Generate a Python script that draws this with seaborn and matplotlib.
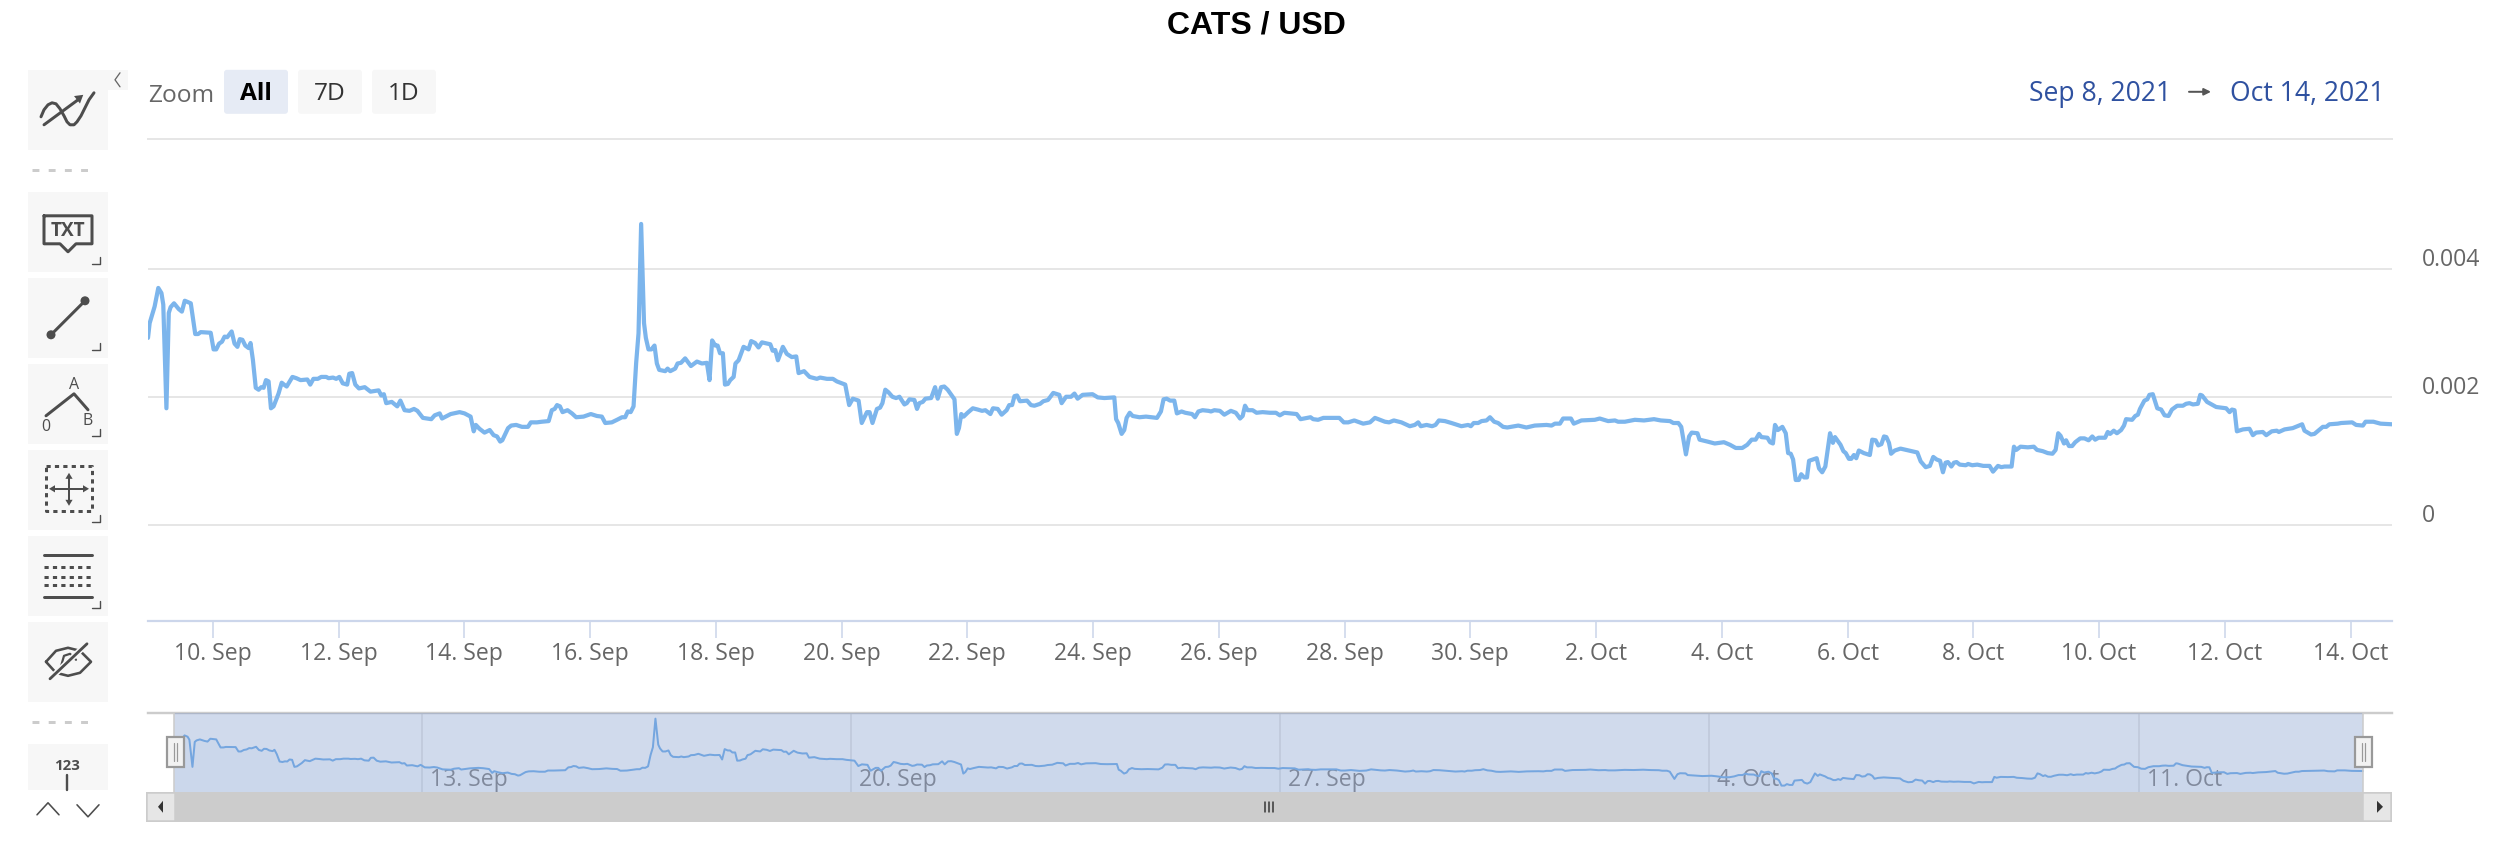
import numpy as np
import pandas as pd
import matplotlib
matplotlib.use("Agg")
import matplotlib.pyplot as plt
import seaborn as sns
from matplotlib.patches import Rectangle, FancyBboxPatch, Polygon, Circle
from matplotlib.transforms import ScaledTranslation

# hours since 9 Sep 2021 00:00
hours = [
    -0.73, -0.1, 1.8, 3.2, 4.4, 5.1, 6.3, 7.2, 7.9, 9.2, 11.0, 12.2, 13.3, 15.6, 17.3, 18.4, 19.4, 23.2, 24.3, 25.3,
    26.4, 27.5, 28.5, 29.5, 31.2, 32.3, 33.4, 34.3, 35.3, 36.4, 37.7, 38.4, 39.3, 40.4, 41.5, 42.5, 43.4, 44.3, 45.3, 46.2,
    47.2, 49.1, 50.3, 51.2, 52.2, 54.4, 55.9, 57.5, 60.1, 61.2, 62.4, 64.1, 65.4, 67.3, 68.2, 69.9, 71.1, 72.3, 73.6, 75.3,
    76.1, 77.2, 78.4, 79.8, 82.0, 84.2, 87.3, 88.3, 89.3, 90.2, 92.3, 94.4, 95.6, 97.2, 99.1, 100.8, 102.1, 104.2, 107.4, 108.7,
    110.6, 111.5, 114.8, 118.2, 120.1, 122.4, 123.6, 124.4, 125.8, 127.7, 129.7, 131.2, 132.5, 133.7, 134.5, 136.7, 137.9, 139.8, 142.0,
    144.3, 145.4, 147.7, 149.6, 152.2, 153.4, 154.5, 155.4, 156.5, 157.5, 159.4, 161.1, 162.7, 165.5, 168.3, 170.6, 172.5, 173.8, 176.3,
    178.3, 180.2, 181.4, 182.4, 183.5, 184.6, 185.6, 186.5, 187.5, 188.6, 189.3, 190.3, 191.4, 192.6, 193.5, 194.4, 196.7, 197.6, 198.6, 200.5,
    201.4, 202.7, 204.3, 206.5, 208.8, 210.7, 212.6, 213.6, 214.6, 215.8, 216.7, 217.6, 218.7, 219.5, 220.6, 221.5, 222.8, 223.5, 224.7, 226.6,
    228.5, 229.5, 231.0, 232.3, 233.6, 236.8, 237.7, 238.7, 239.7, 241.6, 243.1, 245.0, 246.7, 247.6, 249.7, 251.8, 254.6, 255.8, 258.4, 260.7,
    262.2, 265.4, 266.9, 268.3, 270.5, 271.7, 273.7, 274.7, 275.8, 277.5, 278.7, 279.6, 280.7, 281.9, 283.4, 284.8, 286.1, 288.0, 288.9, 289.9,
    291.8, 292.8, 293.7, 295.0, 296.0, 298.2, 299.7, 300.7, 302.0, 303.2, 304.5, 307.1, 308.0, 308.8, 309.7, 310.6, 312.1, 314.1, 316.0, 317.6,
    318.9, 320.8, 321.8, 323.6, 325.1, 327.0, 328.0, 329.1, 330.0, 331.0, 332.1, 334.8, 336.3, 337.6, 339.8, 341.0, 342.8, 344.8, 347.1, 348.0,
    349.7, 351.6, 352.9, 354.1, 356.0, 359.8, 361.8, 364.3, 368.1, 368.8, 369.6, 370.9, 371.9, 372.8, 374.0, 375.1, 377.7, 380.2, 384.4, 385.9,
    386.9, 388.1, 389.4, 391.0, 392.0, 393.8, 395.2, 397.8, 398.9, 400.2, 401.8, 404.1, 405.0, 406.3, 408.4, 410.1, 412.6, 414.5, 416.1, 417.1,
    418.0, 419.0, 420.9, 422.4, 424.7, 427.5, 429.8, 431.3, 433.0, 437.7, 439.2, 443.0, 444.0, 445.9, 447.9, 451.0, 454.0, 455.7, 457.4, 459.7,
    463.1, 465.7, 467.6, 471.4, 473.0, 474.8, 477.7, 480.9, 482.8, 484.1, 485.1, 487.3, 489.4, 490.7, 492.0, 494.3, 496.8, 500.6, 503.2, 504.2,
    505.3, 507.0, 508.3, 510.2, 511.5, 513.1, 514.6, 516.5, 518.1, 522.3, 525.4, 528.6, 533.1, 535.0, 536.3, 538.2, 539.4, 542.4, 543.5, 546.4,
    551.5, 553.4, 556.6, 559.2, 560.4, 563.0, 566.8, 570.3, 574.1, 576.7, 580.2, 581.5, 583.4, 584.5, 586.3, 587.5, 588.5, 590.7, 591.5, 594.5,
    597.3, 600.8, 603.1, 605.3, 607.8, 609.7, 611.4, 612.9, 614.2, 615.1, 617.4, 618.4, 619.5, 620.3, 621.4, 623.1, 624.4, 625.3, 626.3, 627.2,
    628.2, 629.4, 630.3, 631.4, 632.5, 633.3, 636.2, 637.1, 638.3, 639.5, 641.3, 642.4, 643.2, 645.3, 646.4, 647.3, 648.5, 649.4, 650.4, 651.3,
    652.3, 654.2, 656.5, 657.4, 658.7, 659.7, 660.9, 661.9, 662.8, 663.8, 664.6, 666.0, 668.2, 671.4, 674.6, 675.9, 677.8, 679.4, 680.7, 682.0,
    683.3, 684.4, 685.4, 686.3, 687.6, 688.6, 689.6, 690.8, 693.1, 694.0, 695.6, 697.5, 699.8, 702.2, 703.5, 705.4, 706.7, 707.9, 710.6, 711.5,
    712.4, 714.0, 716.8, 719.1, 720.3, 722.5, 724.4, 726.2, 727.4, 728.4, 729.3, 730.6, 731.4, 732.5, 733.7, 734.9, 736.8, 738.4, 740.0, 741.4,
    742.5, 743.8, 746.3, 747.3, 748.2, 749.6, 750.8, 752.4, 753.5, 754.3, 756.6, 757.8, 758.8, 759.6, 761.3, 762.4, 763.2, 764.5, 766.2, 767.7,
    769.0, 770.5, 771.8, 773.8, 776.0, 777.2, 778.5, 779.8, 781.7, 782.6, 783.3, 785.2, 788.7, 792.5, 793.8, 794.7, 795.7, 796.6, 798.9, 801.4,
    802.7, 803.9, 806.5, 807.8, 809.9, 811.8, 812.6, 814.8, 817.9, 821.5, 822.4, 824.9, 826.2, 829.4, 830.7, 831.9, 835.1, 836.4, 840.6, 842.1,
    844.7, 845.7, 848.7, 851.4, 855.8,
]
# CATS price in thousandths of a USD
price_milli = [
    2.92, 3.15, 3.41, 3.70, 3.62, 3.44, 1.82, 3.31, 3.40, 3.46, 3.37, 3.33, 3.50, 3.46, 2.98, 2.98, 3.01, 3.00, 2.74, 2.74,
    2.83, 2.86, 2.94, 2.93, 3.02, 2.83, 2.78, 2.90, 2.89, 2.80, 2.76, 2.84, 2.58, 2.14, 2.11, 2.15, 2.14, 2.26, 2.24, 1.82,
    1.85, 2.05, 2.22, 2.19, 2.16, 2.31, 2.29, 2.26, 2.27, 2.19, 2.28, 2.28, 2.31, 2.31, 2.29, 2.30, 2.28, 2.31, 2.21, 2.19,
    2.36, 2.37, 2.19, 2.13, 2.15, 2.08, 2.10, 2.02, 2.04, 1.90, 1.92, 1.85, 1.94, 1.79, 1.78, 1.81, 1.78, 1.67, 1.65, 1.71,
    1.74, 1.66, 1.73, 1.76, 1.74, 1.69, 1.46, 1.56, 1.50, 1.44, 1.48, 1.40, 1.38, 1.30, 1.32, 1.51, 1.55, 1.56, 1.53,
    1.53, 1.60, 1.60, 1.61, 1.62, 1.79, 1.81, 1.87, 1.85, 1.76, 1.79, 1.74, 1.68, 1.69, 1.73, 1.70, 1.69, 1.59, 1.60,
    1.64, 1.68, 1.68, 1.77, 1.76, 1.85, 2.53, 2.99, 4.70, 3.15, 2.92, 2.74, 2.74, 2.80, 2.52, 2.42, 2.40, 2.44, 2.40, 2.44,
    2.52, 2.53, 2.60, 2.48, 2.55, 2.52, 2.53, 2.26, 2.88, 2.80, 2.80, 2.68, 2.68, 2.19, 2.20, 2.26, 2.31, 2.52, 2.57, 2.78,
    2.74, 2.87, 2.84, 2.77, 2.85, 2.82, 2.72, 2.73, 2.57, 2.78, 2.67, 2.62, 2.63, 2.37, 2.40, 2.31, 2.28, 2.30, 2.28, 2.28,
    2.24, 2.19, 1.87, 1.97, 1.94, 1.59, 1.76, 1.76, 1.59, 1.81, 1.83, 1.90, 2.11, 2.07, 2.00, 1.98, 2.00, 1.88, 1.90, 1.96,
    1.95, 1.81, 1.90, 1.92, 1.97, 1.98, 2.15, 1.97, 2.15, 2.16, 2.11, 1.96, 1.42, 1.51, 1.73, 1.69, 1.75, 1.82, 1.80, 1.78,
    1.79, 1.73, 1.82, 1.81, 1.72, 1.79, 1.87, 1.87, 2.01, 2.02, 1.93, 1.94, 1.87, 1.86, 1.89, 1.93, 1.95, 2.06, 2.03, 1.90,
    2.00, 2.00, 2.05, 1.97, 2.03, 2.04, 1.99, 1.98, 1.99, 1.65, 1.59, 1.42, 1.48, 1.67, 1.75, 1.70, 1.68, 1.69, 1.67, 1.77,
    1.96, 1.97, 1.94, 1.94, 1.74, 1.77, 1.75, 1.73, 1.68, 1.77, 1.79, 1.78, 1.77, 1.79, 1.78, 1.72, 1.78, 1.75, 1.66, 1.70,
    1.86, 1.79, 1.79, 1.75, 1.76, 1.75, 1.75, 1.71, 1.75, 1.73, 1.65, 1.68, 1.65, 1.64, 1.67, 1.67, 1.67, 1.60, 1.60, 1.63,
    1.58, 1.60, 1.67, 1.61, 1.60, 1.63, 1.60, 1.54, 1.56, 1.60, 1.54, 1.56, 1.54, 1.56, 1.63, 1.62, 1.59, 1.54, 1.56, 1.54,
    1.59, 1.59, 1.62, 1.63, 1.68, 1.61, 1.59, 1.53, 1.52, 1.55, 1.52, 1.55, 1.56, 1.55, 1.58, 1.58, 1.66, 1.66, 1.58, 1.63,
    1.64, 1.66, 1.62, 1.63, 1.61, 1.61, 1.64, 1.63, 1.65, 1.63, 1.62, 1.59, 1.59, 1.53, 1.10, 1.38, 1.44, 1.43, 1.33, 1.30,
    1.27, 1.29, 1.25, 1.20, 1.20, 1.25, 1.33, 1.33, 1.42, 1.37, 1.36, 1.29, 1.27, 1.56, 1.48, 1.53, 1.43, 1.12, 1.11, 1.02,
    0.70, 0.70, 0.79, 0.74, 0.74, 1.00, 1.04, 0.88, 0.82, 0.91, 1.43, 1.28, 1.37, 1.25, 1.15, 1.12, 1.03, 1.03, 1.09, 1.04,
    1.16, 1.12, 1.09, 1.33, 1.32, 1.24, 1.26, 1.38, 1.37, 1.28, 1.11, 1.16, 1.19, 1.16, 1.13, 0.99, 0.90, 0.92, 1.06, 1.02,
    1.00, 0.82, 0.97, 0.98, 0.91, 0.97, 0.98, 0.94, 0.93, 0.95, 0.93, 0.94, 0.92, 0.92, 0.83, 0.92, 0.90, 0.91, 0.91, 1.22,
    1.17, 1.22, 1.21, 1.22, 1.17, 1.15, 1.12, 1.11, 1.17, 1.43, 1.39, 1.27, 1.32, 1.23, 1.23, 1.29, 1.35, 1.35, 1.32, 1.38,
    1.33, 1.36, 1.36, 1.45, 1.42, 1.47, 1.43, 1.48, 1.55, 1.65, 1.64, 1.70, 1.72, 1.81, 1.94, 1.96, 2.03, 2.04, 1.82, 1.80,
    1.71, 1.70, 1.80, 1.86, 1.86, 1.89, 1.90, 1.88, 1.89, 2.03, 2.02, 1.92, 1.84, 1.82, 1.76, 1.80, 1.79, 1.46, 1.49, 1.50,
    1.40, 1.44, 1.45, 1.40, 1.46, 1.47, 1.45, 1.49, 1.51, 1.57, 1.47, 1.41, 1.42, 1.53, 1.53, 1.57, 1.58, 1.59, 1.60, 1.56,
    1.55, 1.61, 1.61, 1.58, 1.57,
]

tick_dates = ["2021-09-10", "2021-09-12", "2021-09-14", "2021-09-16", "2021-09-18", "2021-09-20", "2021-09-22",
              "2021-09-24", "2021-09-26", "2021-09-28", "2021-09-30", "2021-10-02", "2021-10-04", "2021-10-06",
              "2021-10-08", "2021-10-10", "2021-10-12", "2021-10-14"]
tick_labels = ["10. Sep", "12. Sep", "14. Sep", "16. Sep", "18. Sep", "20. Sep", "22. Sep", "24. Sep", "26. Sep",
               "28. Sep", "30. Sep", "2. Oct", "4. Oct", "6. Oct", "8. Oct", "10. Oct", "12. Oct", "14. Oct"]
nav_dates = ["2021-09-13", "2021-09-20", "2021-09-27", "2021-10-04", "2021-10-11"]
nav_labels = ["13. Sep", "20. Sep", "27. Sep", "4. Oct", "11. Oct"]
y_ticks = [0, 0.002, 0.004]
y_labels = ["0", "0.002", "0.004"]

W, H = 2500, 854
LINE = "#7cb5ec"
PX = 0.72  # pixels to points at dpi 100
DY = 0.8  # small downward nudge of everything

sns.set_style("white")
plt.rcParams["font.family"] = ["Open Sans", "DejaVu Sans"]

df = pd.DataFrame({
    "time": pd.Timestamp("2021-09-09") + pd.to_timedelta(hours, unit="h"),
    "price": np.array(price_milli) / 1000,
})


def rect(left, top, right, bottom):
    return [left / W, 1 - (bottom + DY) / H, (right - left) / W, (bottom - top) / H]


fig = plt.figure(figsize=(W / 100, H / 100), dpi=100, facecolor="white")

# overlay in pixel units for the toolbar and buttons around the chart
ui = fig.add_axes([0, 0, 1, 1], zorder=0)
ui.set_xlim(0, W)
ui.set_ylim(H - DY, -DY)
ui.axis("off")

# main chart
ax = fig.add_axes(rect(148, 139, 2392, 621), zorder=1)
ax.patch.set_alpha(0)
sns.lineplot(data=df, x="time", y="price", ax=ax, color=LINE, linewidth=4.2 * PX, estimator=None, sort=False,
             solid_joinstyle="round", zorder=3)
ax.set(xlabel=None, ylabel=None)
ax.set_xlim(df["time"].iloc[0], df["time"].iloc[-1])
ax.set_ylim(-0.0015, 0.00603)
ax.set_xticks(pd.to_datetime(tick_dates))
ax.set_xticklabels(tick_labels, fontsize=23 * PX, color="#666666")
ax.tick_params(axis="x", length=17 * PX, width=1.6 * PX, color="#ccd6eb", pad=2, bottom=True)
ax.yaxis.tick_right()
ax.set_yticks(y_ticks)
ax.set_yticklabels(y_labels, fontsize=23 * PX, color="#666666")
ax.tick_params(axis="y", length=0, pad=30 * PX)
shift = ScaledTranslation(0, 12.5 / 100, fig.dpi_scale_trans)
for lab in ax.get_yticklabels():
    lab.set_transform(lab.get_transform() + shift)
ax.grid(axis="y", color="#e6e6e6", linewidth=2 * PX)
ax.set_axisbelow(True)
for side in ["left", "right"]:
    ax.spines[side].set_visible(False)
ax.spines["top"].set_color("#e6e6e6")
ax.spines["top"].set_linewidth(2 * PX)
ax.spines["bottom"].set_color("#ccd6eb")
ax.spines["bottom"].set_linewidth(2.2 * PX)

# navigator
nav = fig.add_axes(rect(148, 713, 2392, 792), zorder=1)
nav.patch.set_alpha(0)
nav.grid(False)
sns.lineplot(data=df, x="time", y="price", ax=nav, color=LINE, linewidth=2.0 * PX, estimator=None, sort=False,
             zorder=3)
nav.fill_between(df["time"], df["price"], -1, color=LINE, alpha=0.05, linewidth=0, zorder=2)
nav.set(xlabel=None, ylabel=None, xticks=[], yticks=[])
start, end = df["time"].iloc[0], df["time"].iloc[-1]
nav.set_xlim(start - pd.Timedelta(hours=10.37), end + pd.Timedelta(hours=11.35))
nav.set_ylim(0.00033, 0.00505)
for side in ["left", "right", "bottom"]:
    nav.spines[side].set_visible(False)
nav.spines["top"].set_color("#cccccc")
nav.spines["top"].set_linewidth(2.4 * PX)
for d, lab in zip(pd.to_datetime(nav_dates), nav_labels):
    nav.axvline(d, color="#e6e6e6", linewidth=1.6 * PX, zorder=1)
    nav.annotate(lab, xy=(d, 0), xycoords=("data", "axes fraction"), xytext=(8 * PX, 1 * PX),
                 textcoords="offset points", fontsize=23 * PX, color="#8c8c8c", va="bottom", ha="left", zorder=2)
nav.axvspan(start, end, color="#6685c2", alpha=0.3, linewidth=0, zorder=4)
for d in [start, end]:
    nav.axvline(d, color="#cccccc", linewidth=1.6 * PX, zorder=5)

# title and range text
fig.text(1256 / W, 1 - 26 / H, "CATS / USD", family="Liberation Sans", fontweight="bold", fontsize=32 * PX,
         ha="center", va="center", color="black")
ui.text(148, 95, "Zoom", fontsize=24.5 * PX, color="#666666", va="center", ha="left")
ui.text(2029, 93, "Sep 8, 2021", fontsize=26.5 * PX, color="#2f51a0", va="center", ha="left")
ui.text(2230, 93, "Oct 14, 2021", fontsize=26.5 * PX, color="#2f51a0", va="center", ha="left")
ui.annotate("", xy=(2211, 92), xytext=(2189, 92), arrowprops=dict(arrowstyle="-|>,head_length=0.4,head_width=0.2",
                                                                   color="#555555", lw=2 * PX, shrinkA=0, shrinkB=0))

for left, right, fc, lab, weight, col in [(224, 288, "#e6ebf5", "All", "bold", "black"),
                                          (298, 362, "#f7f7f7", "7D", "normal", "#333333"),
                                          (372, 436, "#f7f7f7", "1D", "normal", "#333333")]:
    ui.add_patch(FancyBboxPatch((left + 3, 73), right - left - 6, 38, boxstyle="round,pad=3", fc=fc, ec="none"))
    ui.text((left + right) / 2, 93, lab, fontsize=24.5 * PX, fontweight=weight, color=col, ha="center", va="center")

# toolbar boxes
ICON = "#4d4d4d"
boxes = [(70, 150), (192, 272), (278, 358), (364, 444), (450, 530), (536, 616), (622, 702), (744, 790)]
for top, bottom in boxes:
    ui.add_patch(Rectangle((28, top), 80, bottom - top, fc="#f7f7f7", ec="none"))
ui.add_patch(Rectangle((108, 70), 20, 20, fc="#f7f7f7", ec="none"))
ui.plot([120, 115, 120], [73, 80, 87], color="#666666", lw=1.3 * PX)
for top, bottom in boxes[1:6]:
    ui.plot([92, 100, 100], [top + 72, top + 72, top + 65], color=ICON, lw=1.4 * PX)
for y in [170, 722]:
    ui.plot([32, 96], [y, y], color="#cccccc", lw=3 * PX, dashes=(2.3, 3.1))


def stroke(xs, ys, lw=3.0, **kw):
    ui.plot(xs, ys, color=ICON, lw=lw * PX, solid_capstyle="round", solid_joinstyle="round", **kw)


def arrow_head(x, y, dx, dy, size=6):
    px, py = -dy, dx
    ui.add_patch(Polygon([(x + dx * size, y + dy * size), (x + px * size * 0.6, y + py * size * 0.6),
                          (x - px * size * 0.6, y - py * size * 0.6)], fc=ICON, ec="none"))


# trend icon
stroke([41, 44, 48, 52, 56, 60, 64, 67, 70, 74, 77, 81, 85, 89, 94],
       [117, 110, 105, 103, 104, 109, 116, 122, 125, 125, 122, 116, 108, 100, 93])
stroke([44, 78], [125, 100])
arrow_head(77, 100, 0.78, -0.62, 8)

# text icon
stroke([44, 92, 92, 76, 68, 60, 44, 44], [216, 216, 244, 244, 252, 244, 244, 216])
ui.text(68, 230, "TXT", fontsize=19 * PX, fontweight="bold", color=ICON, ha="center", va="center")

# line icon
stroke([51, 85], [335, 301])
ui.add_patch(Circle((51, 335), 4.5, fc=ICON, ec="none"))
ui.add_patch(Circle((85, 301), 4.5, fc=ICON, ec="none"))

# fib icon
stroke([46, 74, 88], [416, 394, 410])
ui.text(74, 384, "A", fontsize=16 * PX, color=ICON, ha="center", va="center")
ui.text(88, 420, "B", fontsize=16 * PX, color=ICON, ha="center", va="center")
ui.text(46, 426, "0", fontsize=16 * PX, color=ICON, ha="center", va="center")

# move icon
ui.plot([46, 92, 92, 46, 46], [466, 466, 511, 511, 466], color=ICON, lw=3 * PX, dashes=(1.4, 1.4))
stroke([69, 69], [476, 503], lw=2)
stroke([55, 84], [489, 489], lw=2)
arrow_head(69, 479, 0, -1)
arrow_head(69, 500, 0, 1)
arrow_head(55, 489, -1, 0)
arrow_head(83, 489, 1, 0)

# lines icon
ui.plot([44, 92], [555, 555], color=ICON, lw=3 * PX)
ui.plot([44, 92], [597, 597], color=ICON, lw=3 * PX)
for y in [567, 577, 585]:
    ui.plot([44, 92], [y, y], color=ICON, lw=3 * PX, dashes=(1.4, 1.4))

# eye icon
stroke([46, 56, 68, 80, 91, 80, 68, 56, 46], [662, 651, 648, 651, 662, 673, 676, 673, 662], lw=2.6)
stroke([60, 64, 70, 76], [670, 656, 654, 660], lw=2.2)
ui.plot([87, 50], [644, 679], color="#f7f7f7", lw=6 * PX)
stroke([87, 50], [644, 679], lw=2.8)

# number icon
ui.text(67, 765, "123", fontsize=15 * PX, fontweight="bold", color=ICON, ha="center", va="center")
stroke([67, 67], [775, 790], lw=2.4)
stroke([37, 48, 59], [815, 803, 815], lw=1.6)
stroke([77, 88, 99], [805, 817, 805], lw=1.6)

# scrollbar under the navigator
ui.add_patch(Rectangle((146, 792), 2246, 30, fc="#cccccc", ec="none"))
ui.add_patch(Rectangle((147, 793), 28, 28, fc="#e6e6e6", ec="#cccccc", lw=1.5 * PX))
ui.add_patch(Rectangle((2363, 793), 28, 28, fc="#e6e6e6", ec="#cccccc", lw=1.5 * PX))
ui.add_patch(Polygon([(158, 807), (163, 801), (163, 813)], fc="#333333", ec="none"))
ui.add_patch(Polygon([(2383, 807), (2377, 801), (2377, 813)], fc="#333333", ec="none"))
for x in [1265, 1269, 1273]:
    ui.plot([x, x], [802, 812], color="#333333", lw=1.5 * PX)

# navigator handles sit above the axes
top_ui = fig.add_axes([0, 0, 1, 1], zorder=2)
top_ui.set_xlim(0, W)
top_ui.set_ylim(H - DY, -DY)
top_ui.axis("off")
for left in [167, 2355]:
    top_ui.add_patch(Rectangle((left, 737), 16.5, 30, fc="#f2f2f2", ec="#999999", lw=2.2 * PX))
    for x in [left + 6.5, left + 10]:
        top_ui.plot([x, x], [743, 761], color="#999999", lw=1.2 * PX)

fig.savefig("out.png", dpi=100, facecolor="white")
